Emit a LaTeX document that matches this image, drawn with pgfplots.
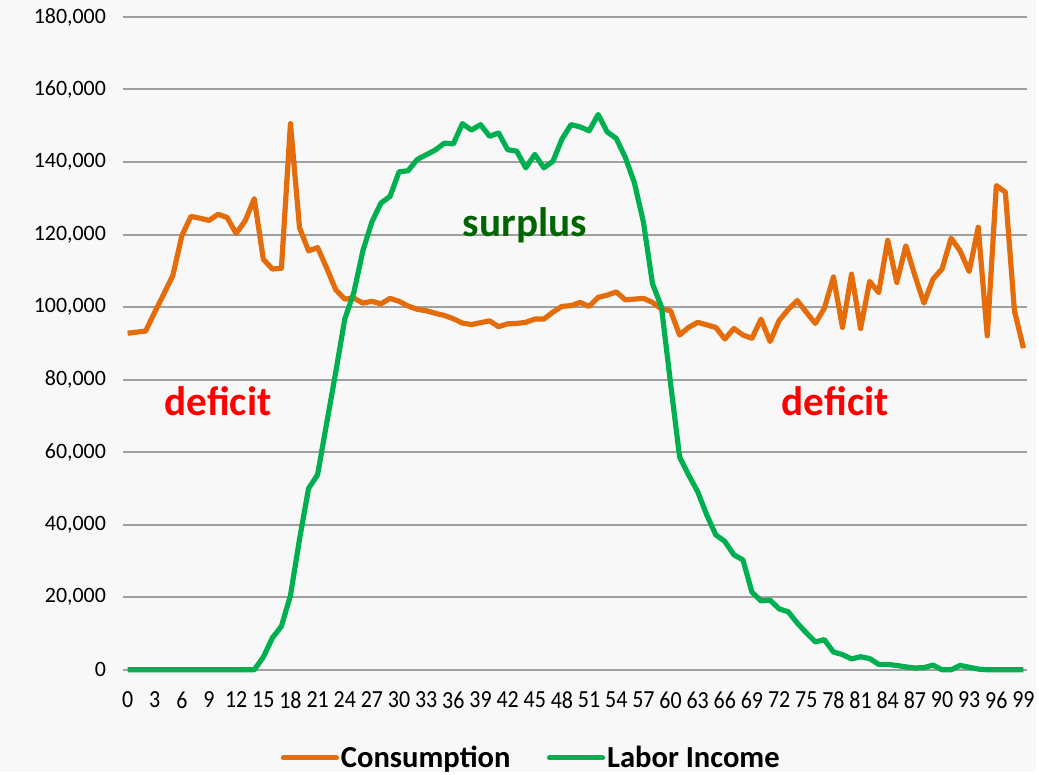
\documentclass[border=0pt]{standalone}
\usepackage{pgfplots}
\usepackage{pgfplotstable}
\pgfplotsset{compat=1.18}
\usepackage{fontspec}
\setmainfont{Carlito}

\definecolor{bg}{RGB}{248,248,248}
\definecolor{cons}{RGB}{228,108,10}
\definecolor{labor}{RGB}{0,176,80}
\definecolor{gridc}{RGB}{160,160,160}
\definecolor{surp}{RGB}{0,100,0}

% consumption and labor income by age
\pgfplotstableread{
age cons labor
0 92800 0
1 93100 0
2 93400 0
3 98600 0
4 103600 0
5 108700 0
6 119700 0
7 125000 0
8 124500 0
9 123900 0
10 125600 0
11 124700 0
12 120300 0
13 123800 0
14 129900 0
15 113200 3500
16 110500 8800
17 110700 12000
18 150600 20500
19 121900 36000
20 115500 50000
21 116400 53800
22 110800 68000
23 104800 82000
24 102200 96700
25 102500 104000
26 101100 115500
27 101600 123500
28 100900 128700
29 102400 130500
30 101600 137300
31 100300 137600
32 99400 140700
33 99000 142000
34 98300 143300
35 97700 145200
36 96800 145000
37 95600 150600
38 95200 148800
39 95700 150300
40 96200 147100
41 94600 148000
42 95400 143400
43 95500 143000
44 95800 138400
45 96700 142100
46 96700 138400
47 98600 140200
48 100200 146300
49 100400 150300
50 101300 149700
51 100200 148600
52 102700 153100
53 103300 148300
54 104200 146500
55 102000 141300
56 102200 134300
57 102400 123500
58 101300 106500
59 99500 100000
60 99000 79000
61 92300 58700
62 94400 53700
63 95800 49100
64 95100 42700
65 94400 37200
66 91200 35400
67 94100 31700
68 92300 30300
69 91400 21400
70 96700 19000
71 90500 19200
72 96300 16800
73 99300 16000
74 101800 12900
75 98600 10200
76 95500 7700
77 99700 8300
78 108300 4900
79 94400 4200
80 109100 3000
81 94100 3600
82 107100 3100
83 104000 1500
84 118400 1500
85 106800 1200
86 116900 800
87 108700 500
88 101100 600
89 107700 1300
90 110500 0
91 119000 0
92 115500 1200
93 109800 700
94 122000 200
95 92100 0
96 133500 0
97 131700 0
98 99000 0
99 88700 0
}\agedata

\begin{document}
\begin{tikzpicture}[x=1pt,y=1pt]
\fill[bg] (-92.25,-77.25) rectangle (687,504);
\begin{axis}[
    at={(0,0)}, anchor=south west,
    scale only axis,
    width=680.25pt, height=491.25pt,
    xmin=-0.55, xmax=99.35,
    ymin=0, ymax=180000,
    xtick={0,3,...,99},
    xticklabel={\pgfmathparse{int(round(\tick))}\scalebox{1}[1.12]{\pgfmathresult}},
    ytick={0,20000,40000,60000,80000,100000,120000,140000,160000,180000},
    yticklabels={0,{20,000},{40,000},{60,000},{80,000},{100,000},{120,000},{140,000},{160,000},{180,000}},
    scaled y ticks=false,
    major tick length=0pt,
    axis line style={draw=none},
    ymajorgrids,
    grid style={gridc, line width=1.5pt},
    tick label style={font=\fontsize{16.5}{19}\selectfont},
    yticklabel style={xshift=-9pt},
    xticklabel style={yshift=-13pt},
    clip=false,
    legend columns=2,
    legend style={draw=none, fill=none, at={(0.452,-0.135)}, anchor=center,
        font=\bfseries\fontsize{23}{27}\selectfont,
        nodes={inner xsep=1.5pt},
        /tikz/every even column/.append style={column sep=26pt}},
    legend image code/.code={\draw[#1, line width=3.75pt, line cap=round] (0pt,0pt) -- (40pt,0pt);},
]
\addplot[cons, line width=3.9pt, line join=round] table[x=age, y=cons] {\agedata};
\addlegendentry{Consumption}
\addplot[labor, line width=3.9pt, line join=round] table[x=age, y=labor] {\agedata};
\addlegendentry{Labor Income}

\node[text=red, font=\bfseries\fontsize{31}{36}\selectfont] at (axis cs:10,74200) {deficit};
\node[text=red, font=\bfseries\fontsize{31}{36}\selectfont] at (axis cs:78.2,74200) {deficit};
\node[text=surp, font=\bfseries\fontsize{31}{36}\selectfont] at (axis cs:43.9,122500) {surplus};
\end{axis}
\end{tikzpicture}
\end{document}
